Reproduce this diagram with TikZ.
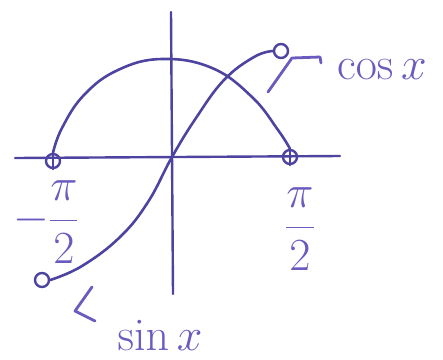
\RequirePackage{fix-cm}
\documentclass[tikz,border=0pt]{standalone}
\usepackage{amsmath}
\usetikzlibrary{positioning}
\definecolor{penink}{HTML}{4C44A0}
\definecolor{penlabel}{HTML}{6A5BBE}

\begin{document}
\begin{tikzpicture}[x=1pt, y=-1pt,
    axis/.style={draw=penink, line width=2.4pt, line cap=round},
    curve/.style={draw=penink, line width=2.6pt, line cap=round},
    endmark/.style={circle, draw=penink, line width=2.4pt, minimum size=14pt, inner sep=0pt},
    handlabel/.style={text=penlabel, font=\fontsize{46}{54}\selectfont, inner sep=0pt},
    leader/.style={draw=penlabel, line width=2.8pt, line cap=round, line join=round}
]
\useasboundingbox (0,0) rectangle (443,359);

% Axes
\coordinate (xleft) at (15,158);
\coordinate (xright) at (340,156);
\coordinate (ytop) at (171,12);
\coordinate (ybot) at (173,294);
\draw[axis] (xleft) -- (xright);
\draw[axis] (ytop) -- (ybot);

% End marks of the curves
\node[endmark] (cosneg) at (53,161) {};
\node[endmark] (cospos) at (290,157) {};
\node[endmark] (sinbot) at (42,280) {};
\node[endmark] (sintop) at (281,51) {};
\draw[axis] (cosneg.north) -- (cosneg.south);
\draw[axis] (cospos.north) -- (cospos.south);

% Cosine arch
\draw[curve] plot[smooth, tension=0.7] coordinates {(cosneg.north) (62,128) (84,95) (118,70) (162,59) (212,68) (252,97) (278,130) (cospos.north)};

% Sine curve
\draw[curve] plot[smooth, tension=0.7] coordinates {(sinbot.east) (82,266) (120,237) (148,202) (172,157) (196,118) (224,80) (254,57) (sintop.west)};

% Labels
\node[handlabel] (coslabel) at (382,70) {$\cos x$};
\node[handlabel] (sinlabel) at (160,335) {$\sin x$};
\node[handlabel] (neghalfpi) at (46,222) {$-\dfrac{\pi}{2}$};
\node[handlabel] (halfpi) at (300,229) {$\dfrac{\pi}{2}$};

% Leaders
\coordinate (cosfoot) at (268,92);
\draw[leader] (cosfoot) -- ++(24,-34) -- ++(28,-1) -- ++(1,6);
\coordinate (sinfoot) at (92,287);
\draw[leader] (sinfoot) -- ++(-17,24) -- ++(20,10);

\end{tikzpicture}
\end{document}
